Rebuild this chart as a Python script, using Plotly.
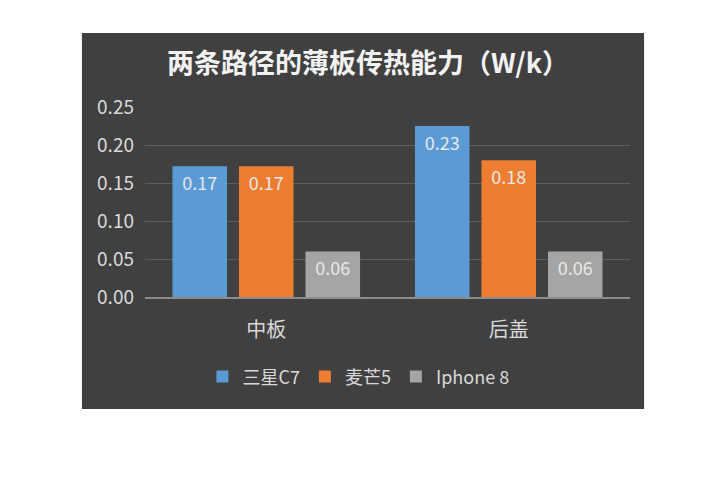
import plotly.graph_objects as go

categories = ["中板", "后盖"]
series_names = ["三星C7", "麦芒5", "Iphone 8"]
samsung = [0.172, 0.225]
maimang = [0.172, 0.18]
iphone = [0.06, 0.06]
colors = ["#5B9BD5", "#ED7D31", "#A5A5A5"]
yticks = [0, 0.05, 0.10, 0.15, 0.20, 0.25]

font = "Noto Sans CJK SC"

fig = go.Figure()
for name, vals, col in zip(series_names, [samsung, maimang, iphone], colors):
    fig.add_trace(go.Bar(
        x=categories, y=vals, name=name, marker_color=col,
        marker_line_width=0,
        texttemplate="%{y:.2f}", textposition="inside", insidetextanchor="end",
        textfont=dict(color="#E8E8E8", size=18, family=font),
    ))

# dark chart box behind everything
fig.add_shape(type="rect", xref="paper", yref="paper",
              x0=-0.13, x1=1.029, y0=-0.589, y1=1.389,
              fillcolor="#404040", line_width=0, layer="below")

fig.update_layout(
    width=720, height=492,
    margin=dict(l=137, r=98, t=99, b=203),
    paper_bgcolor="white", plot_bgcolor="rgba(0,0,0,0)",
    barmode="group", bargap=0.177, bargroupgap=0.18,
    font=dict(family=font, color="#D9D9D9"),
    title=dict(text="<b>两条路径的薄板传热能力（W/k）</b>", x=0.5, xref="container",
               xanchor="center", y=0.888, yanchor="middle",
               font=dict(size=27, color="#F2F2F2", family=font)),
    legend=dict(orientation="h", x=0.44, xanchor="center", y=-0.42, yanchor="middle",
                font=dict(size=18, color="#D9D9D9"), bgcolor="rgba(0,0,0,0)",
                itemwidth=30, traceorder="normal"),
    showlegend=True,
)
fig.update_yaxes(range=[0, 0.25], tickvals=yticks, tickformat=".2f",
                 gridcolor="#5E5E5E", zeroline=False, showline=False,
                 tickfont=dict(size=19, color="#D9D9D9"), ticks="",
                 ticklabelstandoff=10)
fig.update_xaxes(showline=True, linecolor="#8C8C8C", linewidth=1.5,
                 tickfont=dict(size=20, color="#D9D9D9"), ticks="",
                 ticklabelstandoff=14)

fig.write_html("out.html")
